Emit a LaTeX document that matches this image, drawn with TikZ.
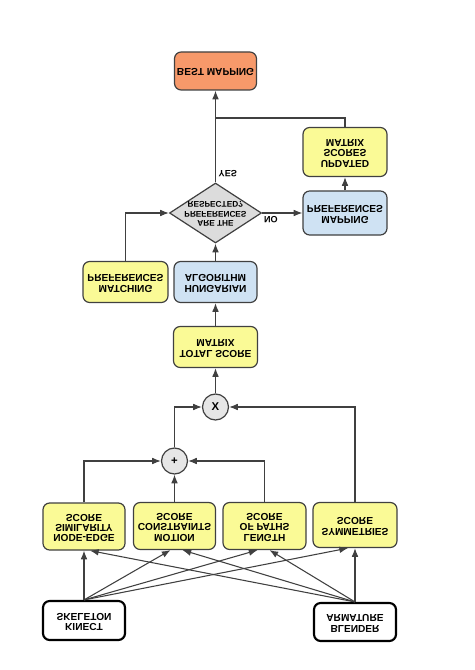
\documentclass[tikz,border=0pt]{standalone}
\usepackage{fontspec}
\setmainfont{Liberation Sans}
\usetikzlibrary{shapes.geometric,arrows.meta,calc}
\definecolor{yel}{HTML}{FAFA96}
\definecolor{blu}{HTML}{CFE2F3}
\definecolor{ora}{HTML}{F7996A}
\definecolor{gry}{HTML}{DCDCDC}
\definecolor{cir}{HTML}{E6E6E6}
\definecolor{edge}{HTML}{404040}
\newcommand{\fliptext}[1]{\scalebox{1}[-1]{\begin{tabular}{@{}c@{}}#1\end{tabular}}}
\tikzset{
  sz/.style 2 args={minimum width={#1*0.75pt},minimum height={#2*0.75pt}},
  box/.style={draw=edge,line width=0.9pt,rounded corners=5pt,inner sep=0pt,
    font=\fontsize{7.6}{7.6}\selectfont\bfseries},
  ybox/.style={box,fill=yel},
  bbox/.style={box,fill=blu},
  obox/.style={box,fill=ora},
  src/.style={draw=black,line width=1.6pt,rounded corners=5pt,fill=white,inner sep=0pt,
    font=\fontsize{7.6}{7.6}\selectfont\bfseries},
  opc/.style={circle,draw=edge,line width=0.9pt,fill=cir,inner sep=0pt,
    minimum size={26*0.75pt},font=\fontsize{8.5}{8.5}\selectfont\bfseries},
  dec/.style={diamond,draw=edge,line width=0.9pt,fill=gry,inner sep=0pt,aspect=1.53,
    minimum width={92*0.75pt},minimum height={60*0.75pt},
    font=\fontsize{6.2}{7.1}\selectfont\bfseries},
  arr/.style={draw=edge,line width=0.8pt,-{Latex[length=6.5pt,width=5pt]}},
  ln/.style={draw=edge,line width=0.8pt},
  lab/.style={font=\fontsize{6.8}{6.8}\selectfont\bfseries,inner sep=2pt}
}
\begin{document}
\begin{tikzpicture}[x=0.75pt,y=-0.75pt]
\useasboundingbox (0,0) rectangle (474,670);
% nodes
\node[obox,sz={82}{38}] (best) at (215.5,71) {\fliptext{BEST MAPPING}};
\node[ybox,sz={84}{49}] (upd) at (345,152) {\fliptext{UPDATED\\SCORES\\MATRIX}};
\node[dec] (dia) at (215.5,213) {\makebox[0pt]{\fliptext{ARE THE\\PREFERENCES\\RESPECTED?}}};
\node[bbox,sz={84}{44}] (map) at (345,213) {\fliptext{MAPPING\\PREFERENCES}};
\node[ybox,sz={85}{41}] (match) at (125.5,282) {\fliptext{MATCHING\\PREFERENCES}};
\node[bbox,sz={83}{41}] (hung) at (215.5,282) {\fliptext{HUNGARIAN\\ALGORITHM}};
\node[ybox,sz={84}{41}] (total) at (215.5,347) {\fliptext{TOTAL SCORE\\MATRIX}};
\node[opc] (times) at (215.5,407) {X};
\node[opc] (plus) at (174.5,461) {+};
\node[ybox,sz={82}{47}] (ne) at (84,526.5) {\fliptext{NODE-EDGE\\SIMILARITY\\SCORE}};
\node[ybox,sz={82}{47}] (mo) at (174.5,526) {\fliptext{MOTION\\CONSTRAINTS\\SCORE}};
\node[ybox,sz={83}{47}] (le) at (264.5,526) {\fliptext{LENGTH\\OF PATHS\\SCORE}};
\node[ybox,sz={84}{45}] (sy) at (355,525) {\fliptext{SYMMETRIES\\SCORE}};
\node[src,sz={82}{39}] (kin) at (84,620.5) {\fliptext{KINECT\\SKELETON}};
\node[src,sz={82}{38}] (ble) at (355,622) {\fliptext{BLENDER\\ARMATURE}};
% connectors from sources
\draw[arr] (kin.north) -- (ne.south);
\draw[arr] (kin.north) -- ($(mo.south)+(-4,0)$);
\draw[arr] (kin.north) -- ($(le.south)+(-7,0)$);
\draw[arr] (kin.north) -- ($(sy.south)+(-7,0)$);
\draw[arr] (ble.north) -- ($(ne.south)+(6,0)$);
\draw[arr] (ble.north) -- ($(mo.south)+(8,0)$);
\draw[arr] (ble.north) -- ($(le.south)+(5,0)$);
\draw[arr] (ble.north) -- (sy.south);
% combining
\draw[arr] (ne.north) |- (plus.west);
\draw[arr] (le.north) |- (plus.east);
\draw[arr] (mo.north) -- (plus.south);
\draw[arr] (plus.north) |- (times.west);
\draw[arr] (sy.north) |- (times.east);
\draw[arr] (times.north) -- (total.south);
\draw[arr] (total.north) -- (hung.south);
\draw[arr] (hung.north) -- (dia.south);
\draw[arr] (match.north) |- (dia.west);
\draw[arr] (dia.east) -- node[lab,pos=0.22,below] {\scalebox{1}[-1]{NO}} (map.west);
\draw[arr] (map.north) -- (upd.south);
\draw[arr] (dia.north) -- node[lab,pos=0.1,right] {\scalebox{1}[-1]{YES}} (best.south);
\coordinate (join) at (215.5,118);
\draw[ln] (upd.north) |- (join);
\end{tikzpicture}
\end{document}
